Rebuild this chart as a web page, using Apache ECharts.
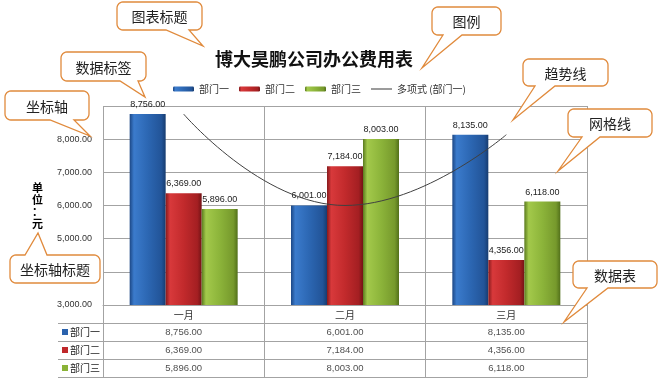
<!DOCTYPE html>
<html>
<head>
<meta charset="utf-8">
<script src="https://cdn.jsdelivr.net/npm/echarts@6/dist/echarts.min.js"></script>
<style>html,body{margin:0;padding:0;background:#fff}#c{width:661px;height:381px}</style>
</head>
<body>
<div id="c"></div>
<script>
// ---- data ----
const chartTitle = '博大昊鹏公司办公费用表';
const categories = ['一月', '二月', '三月'];
const seriesNames = ['部门一', '部门二', '部门三'];
const dept1 = [8756, 6001, 8135];
const dept2 = [6369, 7184, 4356];
const dept3 = [5896, 8003, 6118];
const trendName = '多项式 (部门一)';
const yMin = 3000, yMax = 9000, yStep = 1000;
const yAxisTitle = '单\n位\n：\n元';
const calloutTexts = ['图表标题', '数据标签', '坐标轴', '图例', '趋势线', '网格线', '坐标轴标题', '数据表'];

// ---- styling / layout ----
const FONT = "'Liberation Sans','Noto Sans CJK SC',sans-serif";
const CJK = "'Noto Sans CJK SC',sans-serif";
const GRID = '#a3a3a3';
const deptValues = [dept1, dept2, dept3];
const solid = ['#2a62ad', '#c0282b', '#8ab337'];
function grad(stops) {
  return new echarts.graphic.LinearGradient(0, 0, 1, 0, stops.map((c, i) => ({offset: [0, 0.12, 0.5, 0.88, 1][i], color: c})));
}
const barColors = [
  grad(['#1c4785', '#3b7bcc', '#2c67b3', '#225498', '#173c70']),
  grad(['#861a1c', '#d8393b', '#c22a2c', '#a41f22', '#741315']),
  grad(['#5a7a1e', '#a3c94b', '#8cb43a', '#76992c', '#52701a'])
];
function fmt(v) { return Number(v).toLocaleString('en-US', {minimumFractionDigits: 2, maximumFractionDigits: 2}); }

// callout geometry: box x1,y1,x2,y2, tail side, tail base b1,b2, tip
const calloutGeom = [
  [117, 2, 202, 30, 'bottom', 166, 189, 203, 46],
  [61, 52, 146, 81, 'bottom', 120, 138, 145, 97],
  [5, 91, 89, 120, 'bottom', 50, 74, 90, 136],
  [432, 7, 501, 35, 'bottom', 443, 462, 422, 68],
  [523, 59, 608, 86, 'bottom', 535, 555, 513, 120],
  [568, 109, 652, 137, 'bottom', 582, 600, 558, 171],
  [10, 255, 100, 283, 'top', 25, 47, 38, 233],
  [573, 261, 657, 288, 'bottom', 587, 608, 564, 322]
];
function calloutPoints(g) {
  const [x1, y1, x2, y2, side, b1, b2, tx, ty] = g;
  const r = 6, pts = [];
  const arc = (cx, cy, a0, a1) => { for (let i = 0; i <= 6; i++) { const a = a0 + (a1 - a0) * i / 6; pts.push([cx + r * Math.cos(a), cy + r * Math.sin(a)]); } };
  arc(x1 + r, y1 + r, Math.PI, 1.5 * Math.PI);
  if (side === 'top') pts.push([b1, y1], [tx, ty], [b2, y1]);
  arc(x2 - r, y1 + r, 1.5 * Math.PI, 2 * Math.PI);
  arc(x2 - r, y2 - r, 0, 0.5 * Math.PI);
  if (side === 'bottom') pts.push([b2, y2], [tx, ty], [b1, y2]);
  arc(x1 + r, y2 - r, 0.5 * Math.PI, Math.PI);
  return pts;
}
const graphics = [];
calloutGeom.forEach((g, i) => {
  graphics.push({type: 'polygon', z: 100, shape: {points: calloutPoints(g)}, style: {fill: '#fff', stroke: '#e08a3c', lineWidth: 1.3}});
  graphics.push({type: 'text', z: 101, x: (g[0] + g[2]) / 2, y: (g[1] + g[3]) / 2 + 1,
    style: {text: calloutTexts[i], fill: '#222', fontSize: 14, fontFamily: CJK, align: 'center', verticalAlign: 'middle'}});
});

const tableCells = [];
deptValues.forEach((arr, r) => arr.forEach((v, c) => tableCells.push([c, r, v])));

const rich = {t: {fontSize: 10, color: '#222', padding: [0, 0, 0, 2], fontFamily: CJK}};
solid.forEach((c, i) => { rich['s' + i] = {width: 6, height: 6, backgroundColor: c}; });

const option = {
  animation: false,
  textStyle: {fontFamily: FONT},
  title: {text: chartTitle, left: 210, top: 45, textStyle: {fontSize: 18, fontWeight: 'bold', color: '#111', fontFamily: CJK}},
  legend: {
    data: seriesNames.concat([{name: trendName, icon: 'path://M0,0h40v2h-40z', itemStyle: {color: '#404040'}}]),
    left: 168, top: 79, itemWidth: 21, itemHeight: 5, itemGap: 10,
    textStyle: {fontSize: 10, color: '#333', fontFamily: CJK}
  },
  grid: [
    {left: 103, top: 106, width: 484, height: 199},
    {left: 103, top: 323, width: 484, height: 54}
  ],
  xAxis: [
    {type: 'category', gridIndex: 0, data: categories,
      axisLine: {show: true, lineStyle: {color: GRID}},
      axisTick: {show: true, length: 18, lineStyle: {color: GRID}},
      splitLine: {show: true, lineStyle: {color: GRID}},
      axisLabel: {margin: 5, fontSize: 10, color: '#333', fontFamily: CJK}},
    {type: 'category', gridIndex: 1, data: categories,
      axisLine: {show: true, lineStyle: {color: GRID}},
      axisTick: {show: false}, axisLabel: {show: false},
      splitLine: {show: true, lineStyle: {color: GRID}}}
  ],
  yAxis: [
    {type: 'value', gridIndex: 0, min: yMin, max: yMax, interval: yStep,
      name: yAxisTitle, nameLocation: 'middle', nameGap: 60, nameRotate: 0,
      nameTextStyle: {fontWeight: 'bold', fontSize: 11, lineHeight: 12, color: '#000', fontFamily: CJK},
      axisLine: {show: false}, axisTick: {show: false},
      splitLine: {show: true, lineStyle: {color: GRID}},
      axisLabel: {fontSize: 9, color: '#333', margin: 11, showMaxLabel: false, formatter: fmt}},
    {type: 'category', gridIndex: 1, inverse: true, data: seriesNames,
      axisLine: {show: true, lineStyle: {color: GRID}},
      axisTick: {show: true, length: 45, lineStyle: {color: GRID}},
      splitLine: {show: true, lineStyle: {color: GRID}},
      axisLabel: {align: 'left', margin: 41, rich: rich, formatter: (v, i) => '{s' + i + '|}{t|' + v + '}'}}
  ],
  series: seriesNames.map((n, i) => ({
    type: 'bar', name: n, data: deptValues[i], xAxisIndex: 0, yAxisIndex: 0,
    barWidth: 36, barGap: '0%', silent: true,
    itemStyle: {color: barColors[i]},
    label: {show: true, position: 'top', distance: 5, formatter: p => fmt(p.value), fontSize: 9, color: '#222'}
  })).concat([
    {type: 'line', name: trendName, data: dept1, xAxisIndex: 0, yAxisIndex: 0, smooth: true,
      symbol: 'none', silent: true, z: 5, lineStyle: {color: '#404040', width: 1}, itemStyle: {color: '#404040'}},
    {type: 'scatter', name: 'table', data: tableCells, xAxisIndex: 1, yAxisIndex: 1, symbolSize: 1, silent: true,
      itemStyle: {color: 'transparent'},
      label: {show: true, position: 'inside', formatter: p => fmt(p.value[2]), fontSize: 9.5, color: '#222'}}
  ]),
  graphic: graphics
};
const chart = echarts.init(document.getElementById('c'), null, {renderer: 'canvas'});
chart.setOption(option);
</script>
</body>
</html>
